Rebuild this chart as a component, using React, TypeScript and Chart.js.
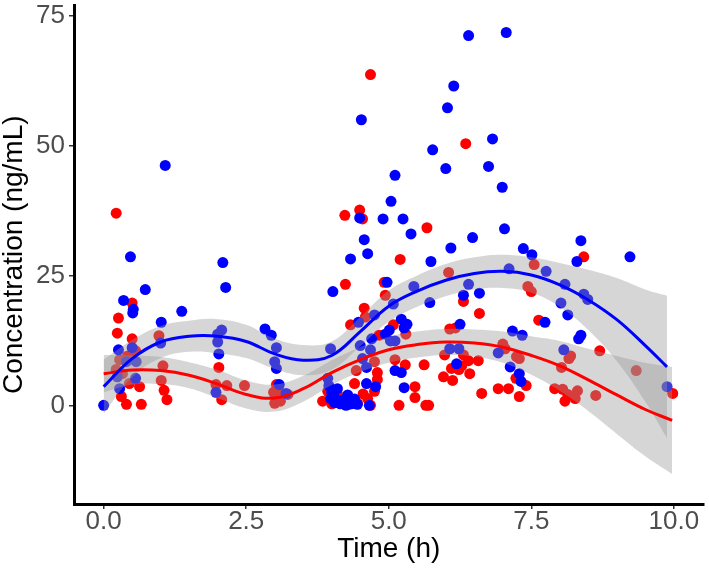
import React, { useEffect, useRef } from "react";
import { Chart, registerables } from "chart.js";

Chart.register(...registerables);

const xTickValues = [0, 2.5, 5, 7.5, 10];
const xTickLabels = ["0.0", "2.5", "5.0", "7.5", "10.0"];
const yTickValues = [0, 25, 50, 75];
const yTickLabels = ["0", "25", "50", "75"];

const redX = [
  0.22, 0.5, 0.26, 0.24, 0.5, 0.97, 0.56, 0.28, 0.42, 0.22, 0.33, 1.04, 1.01, 0.45, 0.63, 1.06, 0.31, 1.11, 0.4, 0.66,
  2.02, 1.97, 2.16, 2.47, 2.07, 3.03, 2.98, 3.05, 3.1, 3.0, 3.08, 3.23, 3.84, 3.93, 4.1, 4.0, 4.2, 4.3, 4.45, 4.63,
  4.75, 4.68, 4.4, 4.8, 4.8, 4.43, 4.75, 5.11, 5.29, 5.62, 5.46, 5.46, 5.18, 5.65, 4.83, 5.3, 4.33, 5.08, 4.59, 4.57,
  4.94, 4.92, 4.24, 5.2, 5.67, 4.54, 4.49, 4.23, 4.68, 6.35, 7.55, 6.05, 7.44, 7.5, 6.31, 6.59, 7.63, 6.07, 6.17, 7.0,
  7.04, 5.98, 6.31, 6.4, 6.57, 7.29, 7.24, 6.1, 6.23, 6.28, 5.96, 6.12, 6.42, 7.23, 7.41, 6.92, 7.1, 7.91, 8.05, 6.63,
  7.29, 5.7, 8.42, 8.7, 8.19, 8.16, 8.03, 9.34, 9.98, 8.14, 8.31, 8.27, 8.09, 8.63, 4.05, 4.55,
];
const redY = [
  37.0, 19.7, 16.8, 13.9, 12.8, 13.4, 10.5, 8.8, 9.5, 6.9, 6.1, 7.6, 4.8, 4.2, 3.6, 2.9, 1.7, 1.1, 0.2, 0.2,
  7.3, 4.0, 3.8, 3.8, 1.1, 4.0, 2.5, 1.5, 0.8, 0.4, 2.7, 2.1, 0.8, 2.7, 2.1, 0.3, 1.0, 0.2, 0.4, 1.3,
  2.7, 0.0, 4.2, 5.0, 6.3, 6.7, 8.4, 8.8, 7.8, 7.8, 3.6, 1.5, 0.0, 0.0, 13.5, 13.7, 15.5, 15.5, 17.0, 18.7,
  21.2, 23.7, 23.3, 28.1, 34.2, 35.9, 37.6, 36.6, 63.7, 50.4, 27.1, 25.6, 22.9, 21.9, 20.0, 17.7, 16.4, 14.7, 14.9, 11.8,
  10.9, 9.7, 9.7, 8.6, 8.6, 9.0, 9.4, 7.1, 6.9, 7.6, 5.5, 4.8, 6.1, 5.2, 3.8, 3.2, 3.2, 3.2, 3.1, 2.3,
  1.7, 0.0, 28.6, 10.5, 9.5, 9.0, 7.3, 6.7, 2.3, 2.1, 2.8, 1.3, 0.8, 1.9, 1.6, 2.2,
];

const blueX = [
  0, 1.08, 0.47, 0.73, 0.35, 0.52, 0.51, 1.37, 1.01, 0.26, 0.5, 1.0, 0.4, 0.57, 0.24, 0.56, 0.28,
  2.09, 2.14, 2.07, 2.0, 2.0, 2.02, 1.97, 2.83, 2.94, 3.03, 3.0, 3.03, 3.08, 3.2,
  4.52, 5.77, 5.11, 5.04, 4.49, 4.9, 5.25, 5.39, 4.57, 4.63, 4.33, 5.74, 4.02, 4.97, 5.44, 5.72, 5.08, 4.75, 4.47, 5.22,
  5.32, 5.27, 5.01, 4.94, 5.03, 5.11, 4.7, 3.98, 4.5, 4.68, 4.54, 4.61, 5.11, 5.22, 3.93, 4.61, 4.77, 5.27, 4.66,
  3.95, 4.0, 4.05, 4.1, 4.15, 4.2, 4.28, 4.35, 4.4, 4.25, 4.45, 4.05, 3.98,
  6.03, 6.82, 6.0, 6.75, 6.99, 7.03, 6.47, 6.09, 7.36, 7.51, 7.76, 7.11, 6.4, 6.31, 6.59, 8.02, 6.25, 7.17, 7.34, 6.07,
  6.23, 6.92, 6.19, 7.13, 7.29, 7.32, 7.74, 6.4, 7.06, 6.14, 8.37, 8.3, 9.23, 8.09, 8.42, 8.49, 8.14, 8.37, 8.33, 8.07,
  9.88,
];
const blueY = [
  0.0, 46.2, 28.6, 22.3, 20.2, 18.5, 17.8, 18.1, 16.0, 10.7, 11.1, 12.0, 8.4, 8.4, 5.5, 5.2, 3.2,
  27.5, 22.7, 14.5, 13.7, 12.2, 9.9, 2.5, 14.7, 13.5, 11.1, 8.4, 7.1, 4.0, 2.3,
  55.0, 49.2, 44.3, 39.3, 36.1, 35.9, 35.9, 33.0, 31.9, 29.2, 28.2, 27.7, 21.9, 23.7, 22.9, 19.8, 19.5, 17.4, 16.0, 16.6,
  15.6, 14.9, 14.5, 13.7, 12.4, 12.4, 12.8, 10.9, 11.5, 10.7, 9.0, 7.3, 6.7, 6.3, 5.2, 4.2, 3.6, 3.4, 0.0,
  3.8, 2.5, 1.5, 3.2, 0.3, 1.0, 2.0, 0.3, 1.2, 0.0, 0.2, 0.5, 1.3,
  57.3, 51.3, 45.6, 46.0, 42.0, 34.0, 32.3, 30.3, 30.2, 29.0, 25.8, 26.3, 23.3, 21.2, 21.6, 19.7, 15.6, 14.3, 13.5, 10.9,
  10.9, 10.1, 8.0, 7.4, 6.1, 4.6, 16.0, 71.2, 71.8, 61.5, 31.7, 27.7, 28.6, 23.3, 21.4, 20.4, 17.4, 13.5, 12.8, 10.7,
  3.6,
];

const blueCurveX = [0, 0.5, 1, 1.5, 2, 2.5, 3, 3.5, 4, 4.5, 5, 5.5, 6, 6.5, 7, 7.5, 8, 8.5, 9, 9.5, 9.88];
const blueFit = [3.6, 9.0, 12.2, 13.3, 13.3, 12.3, 9.9, 8.7, 9.6, 14.2, 19.1, 22.0, 24.1, 25.4, 25.8, 25.1, 23.2, 20.3, 16.5, 11.5, 7.4];
const blueUpper = [8.8, 12.6, 15.3, 16.3, 16.6, 15.5, 12.8, 11.6, 12.3, 17.0, 22.1, 25.0, 27.2, 28.5, 29.0, 28.5, 27.4, 26.1, 24.5, 22.3, 21.1];
const blueLower = [-1.6, 5.4, 9.1, 10.3, 10.0, 9.1, 7.0, 5.8, 6.9, 11.4, 16.1, 19.0, 21.0, 22.3, 22.6, 21.7, 19.0, 14.5, 8.5, 0.7, -6.3];

const redCurveX = [0, 0.5, 1, 1.5, 2, 2.5, 3, 3.5, 4, 4.5, 5, 5.5, 6, 6.5, 7, 7.5, 8, 8.5, 9, 9.5, 9.97];
const redFit = [6.1, 6.8, 6.7, 5.8, 4.1, 2.1, 1.4, 3.2, 6.3, 8.8, 10.7, 11.7, 12.2, 12.0, 11.2, 9.6, 7.6, 4.9, 2.0, -0.8, -2.9];
const redUpper = [9.7, 9.6, 9.3, 8.3, 6.8, 4.8, 4.0, 5.7, 8.7, 11.2, 13.2, 14.2, 14.7, 14.6, 14.2, 13.3, 12.4, 10.9, 9.5, 8.2, 7.4];
const redLower = [2.5, 4.0, 4.1, 3.3, 1.4, -0.6, -1.2, 0.7, 3.9, 6.4, 8.2, 9.2, 9.7, 9.4, 8.2, 5.9, 2.8, -1.1, -5.5, -9.8, -13.2];

const toPts = (xs: number[], ys: number[]) => xs.map((x, i) => ({ x, y: ys[i] }));

const RIBBON = "rgba(153,153,153,0.4)";
const FONT = "'Liberation Sans', Arial, sans-serif";

export default function App() {
  const ref = useRef<HTMLCanvasElement | null>(null);

  useEffect(() => {
    const canvas = ref.current;
    if (!canvas) return;
    const curve = (data: any[], color: string, order: number) => ({
      type: "line" as const,
      data,
      showLine: true,
      borderColor: color,
      borderWidth: 3,
      pointRadius: 0,
      tension: 0.4,
      fill: false,
      order,
    });
    const band = (data: any[], order: number, fill: any) => ({
      type: "line" as const,
      data,
      showLine: true,
      borderColor: "transparent",
      borderWidth: 0,
      pointRadius: 0,
      tension: 0.4,
      backgroundColor: RIBBON,
      fill,
      order,
    });
    const chart = new Chart(canvas, {
      type: "scatter",
      data: {
        datasets: [
          curve(toPts(blueCurveX, blueFit), "#0000FF", 0),
          curve(toPts(redCurveX, redFit), "#FF0000", 1),
          band(toPts(blueCurveX, blueUpper), 2, 3),
          band(toPts(blueCurveX, blueLower), 3, false),
          band(toPts(redCurveX, redUpper), 4, 5),
          band(toPts(redCurveX, redLower), 5, false),
          {
            data: toPts(blueX, blueY),
            pointRadius: 5.5,
            pointHoverRadius: 5.5,
            backgroundColor: "#0000FF",
            borderWidth: 0,
            order: 6,
          } as any,
          {
            data: toPts(redX, redY),
            pointRadius: 5.5,
            pointHoverRadius: 5.5,
            backgroundColor: "#FF0000",
            borderWidth: 0,
            order: 7,
          } as any,
        ] as any,
      },
      options: {
        animation: false,
        responsive: false,
        events: [],
        layout: { padding: 0 },
        plugins: { legend: { display: false }, tooltip: { enabled: false } },
        scales: {
          x: {
            type: "linear",
            min: -0.52,
            max: 10.52,
            afterBuildTicks: (s: any) => {
              s.ticks = xTickValues.map((v) => ({ value: v }));
            },
            afterFit: (s: any) => {
              s.height = 64;
              s.paddingLeft = 0;
              s.paddingRight = 0;
            },
            ticks: {
              callback: (v: any) => xTickLabels[xTickValues.indexOf(Number(v))] ?? "",
              color: "#4D4D4D",
              font: { family: FONT, size: 26, lineHeight: 1 },
              padding: 0,
              maxRotation: 0,
              autoSkip: false,
            },
            grid: { drawOnChartArea: false, drawTicks: true, tickLength: 5, color: "#333333", lineWidth: 1.5 },
            border: { display: true, color: "#000000", width: 3 },
            title: {
              display: true,
              text: "Time (h)",
              color: "#000000",
              font: { family: FONT, size: 28, lineHeight: 1 },
              padding: { top: 0, bottom: 5 },
            },
          },
          y: {
            type: "linear",
            min: -19,
            max: 77,
            afterBuildTicks: (s: any) => {
              s.ticks = yTickValues.map((v) => ({ value: v }));
            },
            afterFit: (s: any) => {
              s.width = 74;
              s.paddingTop = 0;
              s.paddingBottom = 0;
            },
            ticks: {
              callback: (v: any) => yTickLabels[yTickValues.indexOf(Number(v))] ?? "",
              color: "#4D4D4D",
              font: { family: FONT, size: 26, lineHeight: 1 },
              padding: 4,
              autoSkip: false,
            },
            grid: { drawOnChartArea: false, drawTicks: true, tickLength: 5, color: "#333333", lineWidth: 1.5 },
            border: { display: true, color: "#000000", width: 3 },
            title: {
              display: true,
              text: "Concentration (ng/mL)",
              color: "#000000",
              font: { family: FONT, size: 28, lineHeight: 1 },
              padding: { top: 0, bottom: 0 },
            },
          },
        },
      } as any,
    });
    return () => chart.destroy();
  }, []);

  return (
    <div style={{ position: "fixed", left: 0, top: 0, width: 709, height: 568, background: "#FFFFFF" }}>
      <canvas ref={ref} width={709} height={568} style={{ display: "block", width: 709, height: 568 }} />
    </div>
  );
}
